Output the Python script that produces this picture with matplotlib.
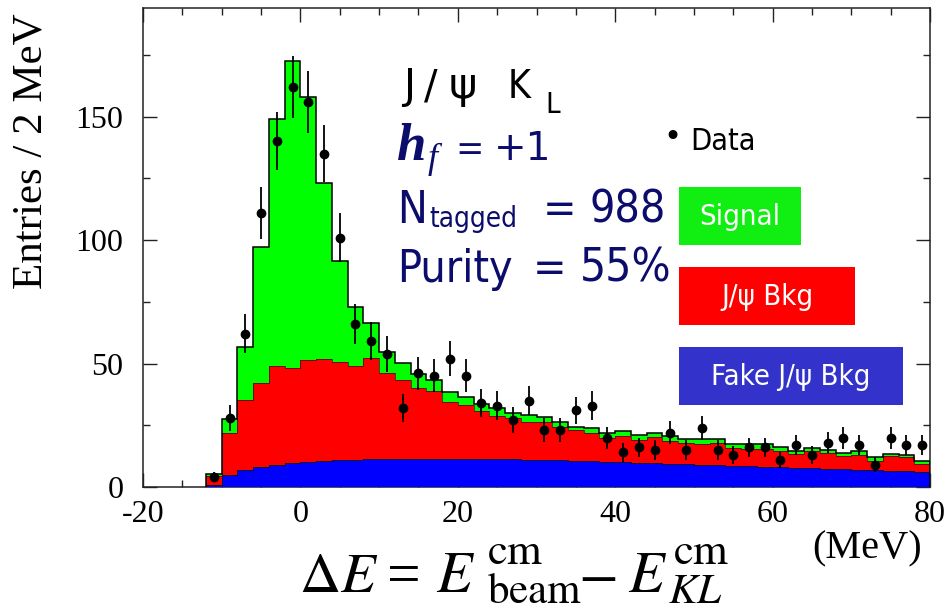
import numpy as np
import matplotlib
matplotlib.use("Agg")
import matplotlib.pyplot as plt
from matplotlib.patches import Rectangle
from matplotlib.ticker import MultipleLocator

plt.rcParams["axes.unicode_minus"] = False

# ---------------- data (2 MeV bins from -12 to 80 MeV) ----------------
bin_edges = [-12, -10, -8, -6, -4, -2, 0, 2, 4, 6, 8, 10, 12, 14, 16, 18, 20,
             22, 24, 26, 28, 30, 32, 34, 36, 38, 40, 42, 44, 46, 48, 50, 52,
             54, 56, 58, 60, 62, 64, 66, 68, 70, 72, 74, 76, 78, 80]
bin_centers = [-11, -9, -7, -5, -3, -1, 1, 3, 5, 7, 9, 11, 13, 15, 17, 19, 21,
               23, 25, 27, 29, 31, 33, 35, 37, 39, 41, 43, 45, 47, 49, 51, 53,
               55, 57, 59, 61, 63, 65, 67, 69, 71, 73, 75, 77, 79]

fake_jpsi_bkg = [1.0, 4.7, 6.9, 8.1, 8.9, 9.7, 10.1, 10.5, 10.8, 11.0, 11.2, 11.3,
                 11.4, 11.5, 11.5, 11.5, 11.4, 11.4, 11.3, 11.2, 11.1, 11.0, 10.8,
                 10.6, 10.4, 10.2, 10.0, 9.8, 9.6, 9.4, 9.2, 9.0, 8.8, 8.6, 8.4,
                 8.2, 8.0, 7.8, 7.6, 7.4, 7.2, 7.0, 6.8, 6.6, 6.4, 6.2]
jpsi_bkg = [3.5, 17.2, 28.4, 34.1, 40.1, 38.5, 41.4, 41.4, 39.9, 38.0, 41.1, 34.9,
            32.0, 28.4, 27.4, 23.1, 21.8, 19.2, 17.5, 16.8, 15.3, 15.3, 13.7,
            12.3, 11.6, 9.7, 10.7, 9.2, 10.5, 9.4, 8.5, 8.4, 8.9, 7.2, 7.1,
            7.3, 6.4, 5.5, 6.8, 6.5, 5.3, 6.1, 3.8, 5.9, 5.6, 3.3]
signal = [0.7, 5.7, 21.4, 55.1, 100.0, 124.2, 106.5, 71.3, 40.9, 24.0, 14.2, 8.5,
          6.9, 5.8, 4.4, 3.8, 3.3, 2.9, 3.3, 1.9, 2.7, 2.0, 1.9,
          1.3, 1.9, 1.9, 1.9, 2.0, 1.9, 1.9, 1.6, 1.9, 1.9, 1.6, 1.9,
          1.9, 1.9, 1.4, 1.2, 1.2, 1.1, 1.3, 1.4, 0.8, 0.9, 1.1]
data_counts = [4, 28, 62, 111, 140, 162, 156, 135, 101, 66, 59, 54, 32, 46, 45,
               52, 45, 34, 33, 27, 35, 23, 23, 31, 33, 20, 14, 16, 15, 22, 15,
               24, 15, 13, 16, 16, 11, 17, 13, 18, 20, 17, 9, 20, 17, 17]
data_errors = [2.0, 5.3, 7.9, 10.5, 11.8, 12.7, 12.5, 11.6, 10.0, 8.1, 7.7, 7.3,
               5.7, 6.8, 6.7, 7.2, 6.7, 5.8, 5.7, 5.2, 5.9, 4.8, 4.8, 5.6, 5.7,
               4.5, 3.7, 4.0, 3.9, 4.7, 3.9, 4.9, 3.9, 3.6, 4.0, 4.0, 3.3, 4.1,
               3.6, 4.2, 4.5, 4.1, 3.0, 4.5, 4.1, 4.1]

x_ticks = [-20, 0, 20, 40, 60, 80]
y_ticks = [0, 50, 100, 150]

# ---------------- figure ----------------
W, H = 948, 613
fig = plt.figure(figsize=(W / 100, H / 100), dpi=100)
fig.patch.set_facecolor("white")
ax = fig.add_axes([143 / W, 1 - 487 / H, (930 - 143) / W, (487 - 8) / H])

edges = np.array(bin_edges, dtype=float)
lvl1 = np.array(fake_jpsi_bkg)
lvl2 = lvl1 + np.array(jpsi_bkg)
lvl3 = lvl2 + np.array(signal)

ax.stairs(lvl3, edges, fill=True, color="#00ff00", zorder=1)
ax.stairs(lvl2, edges, fill=True, color="#ff0000", zorder=2)
ax.stairs(lvl1, edges, fill=True, color="#0000ff", zorder=3)
ax.stairs(lvl1, edges, color="#111111", lw=0.6, zorder=4)
ax.stairs(lvl2, edges, color="#331111", lw=0.5, zorder=4)
ax.stairs(lvl3, edges, color="black", lw=1.1, zorder=5)

ax.errorbar(bin_centers, data_counts, yerr=data_errors, fmt="o", color="black",
            ms=6.0, elinewidth=1.3, capsize=0, zorder=6)

ax.set_xlim(-20, 80)
ax.set_ylim(0, 194)
ax.set_xticks(x_ticks)
ax.set_yticks(y_ticks)
ax.xaxis.set_minor_locator(MultipleLocator(5))
ax.yaxis.set_minor_locator(MultipleLocator(25))
ax.tick_params(which="both", direction="in", top=True, right=True, width=1.0,
               color="#222222")
ax.tick_params(which="major", length=10)
ax.tick_params(which="minor", length=5)
ax.tick_params(axis="x", which="major", pad=9)
ax.tick_params(axis="y", which="major", pad=14)
for lab in ax.get_xticklabels() + ax.get_yticklabels():
    lab.set_fontfamily("Liberation Serif")
    lab.set_fontsize(23)
for sp in ax.spines.values():
    sp.set_linewidth(1.1)
    sp.set_color("#222222")


def T(x, y, s, **kw):
    kw.setdefault("va", "baseline")
    kw.setdefault("ha", "left")
    return fig.text(x / W, 1 - y / H, s, **kw)


sans = dict(family=["DejaVu Sans"], fontstretch="condensed")
wide = dict(family=["DejaVu Sans"])
navy = "#0c0c6c"
stix = dict(math_fontfamily="stix")

# y label
T(31, 151, "Entries / 2 MeV", family="Liberation Serif", fontsize=31,
  rotation=90, ha="center", va="center")
# (MeV)
T(812, 558, "(MeV)", family="Liberation Serif", fontsize=29)

# x label, built from pieces (tight mathtext boxes)
T(299, 592, r"$\Delta E$", fontsize=41, **stix)
T(387, 592, "=", family="Liberation Serif", fontsize=43)
T(436, 592, r"$E$", fontsize=42, **stix)
T(487, 564, r"$\mathrm{cm}$", fontsize=32, **stix)
T(487, 603, r"$\mathrm{beam}$", fontsize=31, **stix)
T(578, 592, r"$-$", fontsize=42, **stix)
T(628, 592, r"$E$", fontsize=42, **stix)
T(673, 564, r"$\mathrm{cm}$", fontsize=32, **stix)
T(668, 603, r"$KL$", fontsize=31, **stix)

# annotations
T(403, 98, "J", fontsize=29, color="black", **wide)
T(424, 98, "/", fontsize=29, color="black", **wide)
T(449, 98, "\u03c8", fontsize=31, color="black", **wide)
T(508, 98, "K", fontsize=28, color="black", **sans)
T(545, 113, "L", fontsize=21, color="black", **sans)
T(397, 160, "h", family="Liberation Serif", fontweight="bold", fontstyle="italic",
  fontsize=38, color=navy)
T(428, 168, "f", family="Liberation Serif", fontstyle="italic", fontsize=26,
  color=navy)
T(455, 160, "=", fontsize=27, color=navy, **sans)
T(494, 160, "+1", fontsize=28, color=navy, **wide)
T(397, 223, "N", fontsize=32, color=navy, **sans)
T(429, 227, "tagged", fontsize=20, color=navy, **sans)
T(543, 223, "=", fontsize=32, color=navy, **sans)
T(590, 223, "988", fontsize=32, color=navy, **sans)
T(397, 282, "Purity", fontsize=32, color=navy, **sans)
T(533, 282, "=", fontsize=32, color=navy, **sans)
T(580, 282, "55%", fontsize=33, color=navy, **sans)

# legend-ish
T(672, 138, "\u2022", fontsize=22, color="black", ha="center", va="center",
  family="DejaVu Sans")
T(690, 150, "Data", fontsize=22, color="black", **sans)

boxes = [("Signal", "#11ee11", 679, 187, 801, 245),
         ("J/\u03c8 Bkg", "#ff0000", 679, 267, 855, 325),
         ("Fake J/\u03c8 Bkg", "#3333cc", 679, 347, 903, 405)]
for label, col, x0, y0, x1, y1 in boxes:
    fig.patches.append(Rectangle((x0 / W, 1 - y1 / H), (x1 - x0) / W, (y1 - y0) / H,
                                 transform=fig.transFigure, facecolor=col,
                                 edgecolor="none", zorder=3))
    T((x0 + x1) / 2, (y0 + y1) / 2 + 1, label, fontsize=21, color="white",
      ha="center", va="center", zorder=4, **sans)

fig.savefig("out.png", dpi=100)
